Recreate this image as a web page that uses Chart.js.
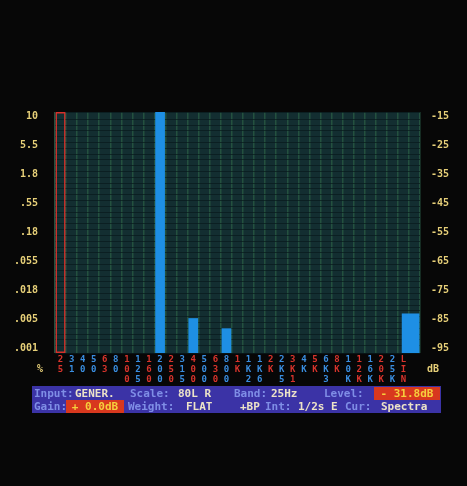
<!DOCTYPE html>
<html>
<head>
<meta charset="utf-8">
<script src="https://cdn.jsdelivr.net/npm/chart.js@4"></script>
<style>
  html, body { margin: 0; padding: 0; background: #070707; }
  #wrap { position: relative; width: 467px; height: 486px; overflow: hidden; }
  #spec { position: absolute; left: 0; top: 0; }
  .unit { position: absolute; font: bold 10px "DejaVu Sans Mono", monospace; color: #e6cf78; }
  #status { position: absolute; left: 32px; top: 386px; width: 409px; height: 27px; background: #3b33a6; }
  #status span { position: absolute; font: bold 11px "DejaVu Sans Mono", monospace; white-space: pre; line-height: 13px; }
  #status .k { color: #7f8ee6; }
  #status .v { color: #ece3c8; }
  #status .hot { background: #d8381e; color: #f6cf3c; text-align: center; }
</style>
</head>
<body>
<div id="wrap">
  <canvas id="spec" width="467" height="486"></canvas>
  <span class="unit" style="left:37px; top:363px;">%</span>
  <span class="unit" style="left:427px; top:363px;">dB</span>
  <div id="status">
    <span class="k" style="left:2px;  top:1px;">Input:</span>
    <span class="v" style="left:43px; top:1px;">GENER.</span>
    <span class="k" style="left:98px; top:1px;">Scale:</span>
    <span class="v" style="left:146px; top:1px;">80L R</span>
    <span class="k" style="left:202px; top:1px;">Band:</span>
    <span class="v" style="left:239px; top:1px;">25Hz</span>
    <span class="k" style="left:292px; top:1px;">Level:</span>
    <span class="hot" style="left:342px; top:1px; width:66px;">- 31.8dB</span>

    <span class="k" style="left:2px;  top:14px;">Gain:</span>
    <span class="hot" style="left:34px; top:14px; width:58px;">+ 0.0dB</span>
    <span class="k" style="left:96px; top:14px;">Weight:</span>
    <span class="v" style="left:154px; top:14px;">FLAT</span>
    <span class="v" style="left:208px; top:14px;">+BP</span>
    <span class="k" style="left:233px; top:14px;">Int:</span>
    <span class="v" style="left:266px; top:14px;">1/2s E</span>
    <span class="k" style="left:313px; top:14px;">Cur:</span>
    <span class="v" style="left:349px; top:14px;">Spectra</span>
  </div>
</div>
<script>
// 1/3-octave band names (shown vertically, one character per line); LIN is the overall level slot
const bandLabels = ['25','31','40','50','63','80','100','125','160','200','250','315','400','500','630','800',
                    '1K','1K2','1K6','2K','2K5','3K1','4K','5K','6K3','8K','10K','12K','16K','20K','25K','LIN',''];
// band levels in dB (null = below display floor)
const bandLevels = [null, null, null, null, null, null, null, null, null, -13.5,
                    null, null, -84.5, null, null, -88, null, null, null, null,
                    null, null, null, null, null, null, null, null, null, null, null, null, null];
// overall (LIN) level in dB
const overallLevel = -83;
// cursor band index
const cursorBand = 0;
// axis ticks: dB values on the right, equivalent percentages on the left
const dbTicks   = [-15, -25, -35, -45, -55, -65, -75, -85, -95];
const pctLabels = ['10', '5.5', '1.8', '.55', '.18', '.055', '.018', '.005', '.001'];

const yMin = -96.5, yMax = -13.5;
const RED = '#d8342c', BLUE = '#3a8ee0';
const labelTone = 'RBBBRBRBRBRBRBRBRBBRBRBRBRBRBRBRR';

const plotBackground = {
  id: 'plotBackground',
  beforeDraw(chart) {
    const { ctx, chartArea: a } = chart;
    ctx.save();
    ctx.fillStyle = '#132e31';
    ctx.fillRect(a.left, a.top, a.right - a.left, a.bottom - a.top);
    ctx.restore();
  }
};

const monoFont = (size, lh) => ({ family: '"DejaVu Sans Mono", monospace', size, weight: 'bold', lineHeight: lh || 1 });

new Chart(document.getElementById('spec'), {
  type: 'bar',
  data: {
    labels: bandLabels.map(s => s ? s.split('') : ''),
    datasets: [
      {
        label: 'Spectrum',
        data: bandLevels,
        base: yMin,
        backgroundColor: '#1e8fe4',
        borderWidth: 0,
        barPercentage: 0.88,
        categoryPercentage: 1,
        grouped: false,
        yAxisID: 'y'
      },
      {
        label: 'Cursor',
        data: bandLabels.map((_, i) => i === cursorBand ? yMax : null),
        base: yMin,
        backgroundColor: 'rgba(0,0,0,0)',
        borderColor: '#d8302a',
        borderWidth: 1.5,
        borderSkipped: false,
        barPercentage: 0.92,
        categoryPercentage: 1,
        grouped: false,
        yAxisID: 'y'
      },
      {
        label: 'Overall',
        data: [{ x: 31.65, y: overallLevel }],
        base: yMin,
        backgroundColor: '#1e8fe4',
        borderWidth: 0,
        barThickness: 17,
        grouped: false,
        xAxisID: 'xo',
        yAxisID: 'y'
      }
    ]
  },
  options: {
    responsive: false,
    animation: false,
    devicePixelRatio: 1,
    layout: { padding: { top: 112, bottom: 100, left: 0, right: 0 } },
    plugins: { legend: { display: false }, tooltip: { enabled: false }, title: { display: false } },
    scales: {
      x: {
        type: 'category',
        offset: true,
        grid: { color: '#24513f', lineWidth: 1.5, offset: true, drawTicks: false },
        border: { display: false },
        ticks: {
          autoSkip: false, maxRotation: 0, minRotation: 0, padding: 2,
          font: monoFont(9, 1.1),
          color: (ctx) => labelTone[ctx.index] === 'R' ? RED : BLUE
        },
        afterFit: (s) => { s.height = 33; }
      },
      xo: {
        type: 'linear', position: 'bottom', min: -0.5, max: 32.5, offset: false,
        grid: { display: false, drawTicks: false },
        border: { display: false },
        ticks: { display: false },
        afterFit: (s) => { s.height = 0; }
      },
      y: {
        type: 'linear', position: 'left', min: yMin, max: yMax,
        grid: { display: false, drawTicks: false },
        border: { display: false },
        afterBuildTicks: (s) => { s.ticks = dbTicks.map(v => ({ value: v })); },
        ticks: {
          padding: 17, color: '#e6cf78', font: monoFont(10),
          callback: (v, i) => pctLabels[i]
        },
        afterFit: (s) => { s.width = 55; }
      },
      yg: {
        type: 'linear', position: 'left', min: yMin, max: yMax,
        grid: { color: 'rgba(8,26,28,0.7)', lineWidth: 1, drawTicks: false },
        border: { display: false },
        ticks: { display: false, stepSize: 2 },
        afterFit: (s) => { s.width = 0; }
      },
      y2: {
        type: 'linear', position: 'right', min: yMin, max: yMax,
        grid: { display: false, drawTicks: false },
        border: { display: false },
        afterBuildTicks: (s) => { s.ticks = dbTicks.map(v => ({ value: v })); },
        ticks: { padding: 11, color: '#e6cf78', font: monoFont(10) },
        afterFit: (s) => { s.width = 47; }
      }
    }
  },
  plugins: [plotBackground]
});
</script>
</body>
</html>
